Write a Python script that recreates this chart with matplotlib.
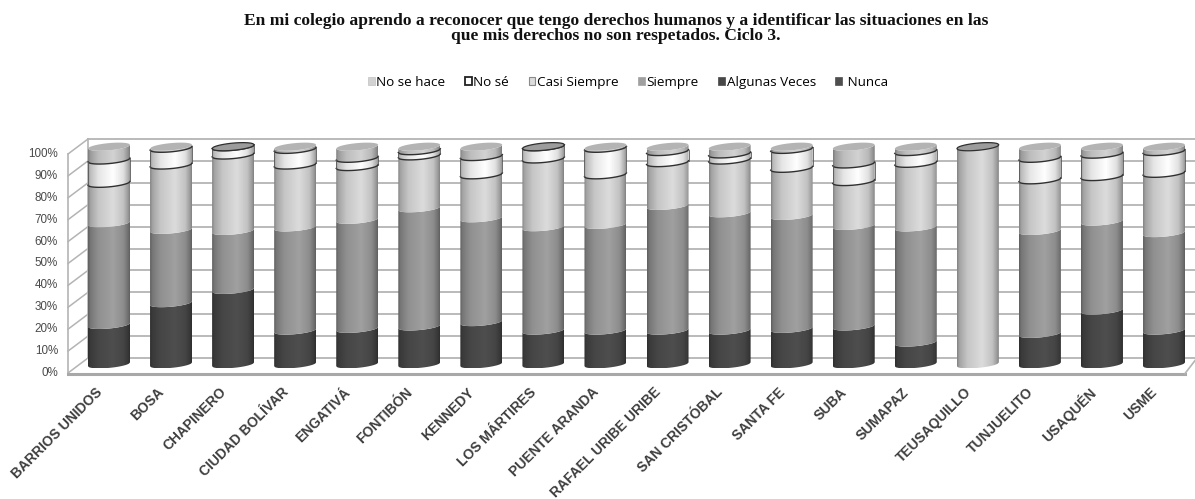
import numpy as np
import matplotlib
matplotlib.use("Agg")
import matplotlib.pyplot as plt
from matplotlib.patches import PathPatch, Patch
from matplotlib.path import Path

zonas = ["BARRIOS UNIDOS", "BOSA", "CHAPINERO", "CIUDAD BOLÍVAR", "ENGATIVÁ", "FONTIBÓN",
         "KENNEDY", "LOS MÁRTIRES", "PUENTE ARANDA", "RAFAEL URIBE URIBE", "SAN CRISTÓBAL",
         "SANTA FE", "SUBA", "SUMAPAZ", "TEUSAQUILLO", "TUNJUELITO", "USAQUÉN", "USME"]

# stacked from the bottom up
nunca = [18.1, 28.1, 34.2, 15.5, 16.3, 17.4, 19.4, 15.5, 15.5, 15.5, 15.5, 16.3, 17.4, 10.0, 0, 14.0, 24.7, 15.5]
algunas = [0] * 18  # same grey as Nunca, can't be told apart in the picture
siempre = [46.7, 33.7, 27.1, 47.4, 50.1, 54.3, 47.7, 47.5, 48.6, 57.3, 53.9, 51.9, 46.2, 52.9, 0, 47.3, 40.9, 44.8]
casi = [18.4, 29.8, 34.9, 28.7, 24.5, 24.1, 20.0, 31.4, 23.0, 19.9, 24.5, 21.9, 20.4, 29.5, 100, 23.5, 20.7, 27.5]
no_se = [10.7, 7.7, 3.8, 7.2, 3.8, 2.4, 8.4, 5.6, 12.2, 5.1, 2.8, 8.7, 8.1, 5.4, 0, 9.9, 10.3, 10.0]
no_hace = [6.1, 0.7, 0, 1.2, 5.3, 1.8, 4.5, 0, 0.7, 2.2, 3.3, 1.2, 7.9, 2.2, 0, 5.3, 3.4, 2.2]

series = [nunca, algunas, siempre, casi, no_se, no_hace]
nombres = ["Nunca", "Algunas Veces", "Siempre", "Casi Siempre", "No sé", "No se hace"]
colores = ["#4e4e4e", "#474747", "#a0a0a0", "#dcdcdc", "#ffffff", "#d2d2d2"]
ticks = np.arange(0, 101, 10)

# pixel geometry of the plot, turned into data units
PX_X = 62.06   # px per category
PX_Y = 2.176   # px per percent
X0 = 109.0
Y0 = 364.3
W, H = 1195, 499

fig = plt.figure(figsize=(W / 100, H / 100), dpi=100)
ax = fig.add_axes([0, 0, 1, 1])
ax.axis("off")


def ux(px):
    return (px - X0) / PX_X


def uy(px):
    return (Y0 - px) / PX_Y


hw = 21 / PX_X
b = 3.6 / PX_Y
tilt = 1.9 / PX_Y
t = np.linspace(-1, 1, 41)
shade = np.interp(np.linspace(0, 1, 64),
                  [0, 0.05, 0.25, 0.6, 0.85, 0.96, 1],
                  [0.6, 0.74, 0.9, 1.0, 0.88, 0.7, 0.6])


def front(i, v):
    return i + hw * t, v + tilt * t - b * np.sqrt(1 - t ** 2)


def back(i, v):
    return i + hw * t, v + tilt * t + b * np.sqrt(1 - t ** 2)


def segment(i, lo, hi, col, z):
    x0, y0 = front(i, lo)
    x1, y1 = front(i, hi)
    xs = np.r_[x0, x1[::-1], x0[0]]
    ys = np.r_[y0, y1[::-1], y0[0]]
    patch = PathPatch(Path(np.c_[xs, ys]), fc="none", ec="none", zorder=z)
    ax.add_patch(patch)
    base = np.array(matplotlib.colors.to_rgb(col))
    img = np.clip(base[None, None, :] * shade[None, :, None], 0, 1)
    im = ax.imshow(img, extent=(i - hw, i + hw, ys.min(), ys.max()), aspect="auto",
                   interpolation="bilinear", zorder=z)
    im.set_clip_path(patch)


# walls
grid = "#b4b4b4"
xf, xb = ux(68), ux(88)
xf_r, xb_r = ux(1185), ux(1197)
for v in ticks:
    yb = uy(358 - v * 2.19)
    yf = uy(373 - v * 2.19)
    ax.plot([xb, xb_r], [yb, yb], color=grid, lw=1.3, zorder=1)
    ax.plot([xf, xb], [yf, yb], color=grid, lw=1.1, zorder=1)
    ax.text(ux(58), yf, "%d%%" % v, ha="right", va="center", fontsize=8.4,
            family="Liberation Sans", color="#4a4a4a")
ax.plot([xf, xf], [uy(373), uy(154)], color=grid, lw=1.2, zorder=1)
ax.plot([xb, xb], [uy(358), uy(139)], color=grid, lw=1.2, zorder=1)
ax.plot([xf, xf_r], [uy(373.5), uy(373.5)], color="#a8a8a8", lw=2.2, zorder=1)
ax.plot([xf_r, xb_r], [uy(373.5), uy(358)], color=grid, lw=1.2, zorder=1)

# cylinders
for i in range(len(zonas)):
    acum = 0.0
    z = 2
    for k, vals in enumerate(series):
        v = vals[i]
        if v == 0:
            continue
        segment(i, acum, acum + v, colores[k], z)
        z += 1
        if nombres[k] == "No sé":
            for lv in (acum, acum + v):
                xa, ya = front(i, lv)
                ax.plot(xa, ya, color="#303030", lw=1.0, zorder=20)
            ax.plot([i - hw, i - hw], [acum - tilt, acum + v - tilt], color="#555555", lw=0.6, zorder=20)
            ax.plot([i + hw, i + hw], [acum + tilt, acum + v + tilt], color="#555555", lw=0.6, zorder=20)
        acum += v
    # top of the cylinder
    x0, y0 = front(i, 100)
    x1, y1 = back(i, 100)
    xs = np.r_[x0, x1[::-1]]
    ys = np.r_[y0, y1[::-1]]
    delgado = no_hace[i] == 0
    ax.fill(xs, ys, fc="#9c9c9c" if delgado else "#b4b4b4", ec="#303030" if delgado else "none",
            lw=0.9, zorder=21)

for i, nom in enumerate(zonas):
    ax.text(i - 14 / PX_X, uy(385), nom, rotation=45, ha="right", va="top", rotation_mode="anchor",
            fontsize=10, family="Liberation Sans", color="#1c1c1c", fontweight="bold", alpha=0.85)

ax.set_xlim(ux(0), ux(W))
ax.set_ylim(uy(H), uy(0))

fig.text(616 / W, 1 - 28.5 / H,
         "En mi colegio aprendo a reconocer que tengo derechos humanos y a identificar las situaciones en las\n"
         "que mis derechos no son respetados. Ciclo 3.",
         ha="center", va="center", fontsize=12.6, family="Liberation Serif", fontweight="bold",
         linespacing=0.93, color="#111111")

bordes = {"No sé": ("#222222", 1.3), "Casi Siempre": ("#8a8a8a", 0.8), "No se hace": ("#c8c8c8", 0.6)}
handles = []
for k in range(5, -1, -1):
    ec, lw = bordes.get(nombres[k], (colores[k], 0.5))
    handles.append(Patch(fc=colores[k], ec=ec, lw=lw, label=" " + nombres[k] if nombres[k] == "Nunca" else nombres[k]))
fig.legend(handles=handles, loc="center", bbox_to_anchor=(628 / W, 1 - 82.5 / H), ncol=6, frameon=False,
           prop={"family": "Open Sans", "size": 9.7}, handlelength=0.5, handleheight=0.5,
           handletextpad=0.12, columnspacing=1.45, borderpad=0)

fig.savefig("out.png", dpi=100)
